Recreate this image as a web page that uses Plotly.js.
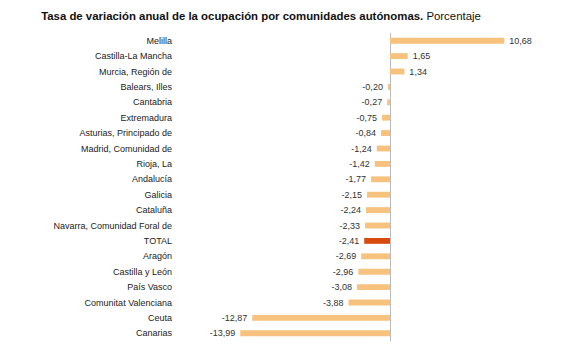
<!DOCTYPE html>
<html>
<head>
<meta charset="utf-8">
<script src="https://cdn.plot.ly/plotly-3.0.1.min.js"></script>
<style>html,body{margin:0;padding:0;background:#fff;}#chart{width:580px;height:359px;}</style>
</head>
<body>
<div id="chart"></div>
<script>
const regions = ["Melilla","Castilla-La Mancha","Murcia, Región de","Balears, Illes","Cantabria","Extremadura","Asturias, Principado de","Madrid, Comunidad de","Rioja, La","Andalucía","Galicia","Cataluña","Navarra, Comunidad Foral de","TOTAL","Aragón","Castilla y León","País Vasco","Comunitat Valenciana","Ceuta","Canarias"];
const rates = [10.68,1.65,1.34,-0.20,-0.27,-0.75,-0.84,-1.24,-1.42,-1.77,-2.15,-2.24,-2.33,-2.41,-2.69,-2.96,-3.08,-3.88,-12.87,-13.99];
const highlight = "TOTAL";

const colors = regions.map(r => r === highlight ? "#D94A0F" : "#F6C27E");
const pad = "\u00A0\u00A0";
const templates = rates.map(v => v >= 0 ? pad + "%{x:.2f}" : "%{x:.2f}" + pad);

const trace = {
  type: "bar",
  orientation: "h",
  y: regions,
  x: rates,
  marker: {color: colors},
  texttemplate: templates,
  textposition: "outside",
  constraintext: "none",
  cliponaxis: false,
  textfont: {family: "Liberation Sans, Arial, sans-serif", size: 9, color: "#333"},
  hoverinfo: "none"
};

const layout = {
  width: 580, height: 359,
  margin: {l: 177, r: 8, t: 33, b: 18},
  separators: ",.",
  paper_bgcolor: "#fff", plot_bgcolor: "#fff",
  showlegend: false,
  bargap: 0.62,
  font: {family: "Liberation Sans, Arial, sans-serif", size: 9, color: "#222"},
  title: {
    text: "<b>Tasa de variación anual de la ocupación por comunidades autónomas.</b> Porcentaje",
    font: {family: "Liberation Sans, Arial, sans-serif", size: 11.4, color: "#111"},
    x: 0.45, xanchor: "center", y: 0.955, yanchor: "middle"
  },
  xaxis: {
    range: [-19.9, 17.0],
    showgrid: false, showticklabels: false, ticks: "",
    zeroline: true, zerolinecolor: "#BBBBBB", zerolinewidth: 1,
    showline: false, fixedrange: true
  },
  yaxis: {
    autorange: "reversed",
    showgrid: false, ticks: "", showline: false, zeroline: false,
    ticklabelstandoff: 4,
    tickfont: {family: "Liberation Sans, Arial, sans-serif", size: 9, color: "#222"},
    fixedrange: true
  }
};

Plotly.newPlot("chart", [trace], layout, {displayModeBar: false, staticPlot: true});
</script>
</body>
</html>
